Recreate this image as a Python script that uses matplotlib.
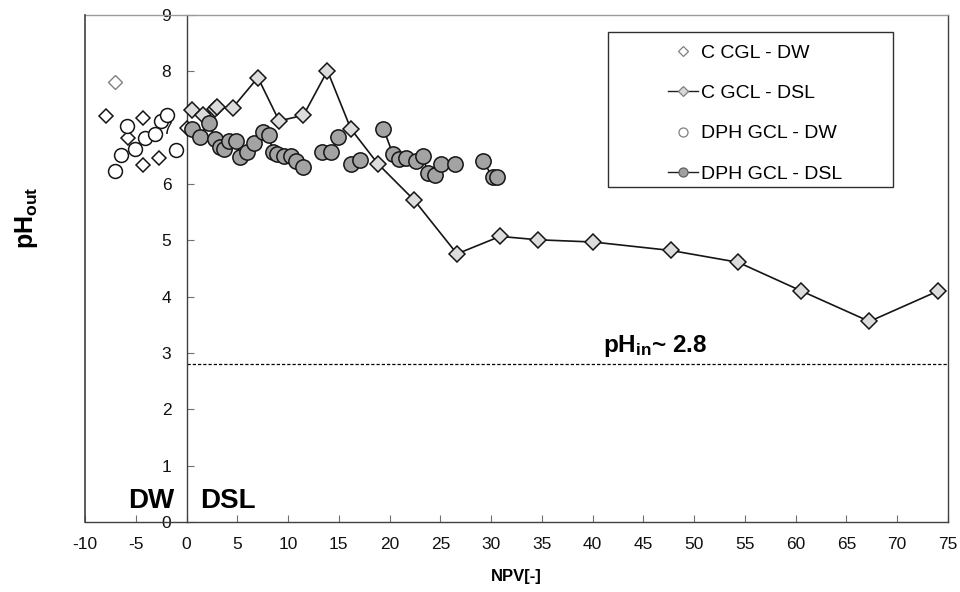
import numpy as np
import matplotlib
matplotlib.use('Agg')
import matplotlib.pyplot as plt
from matplotlib.lines import Line2D
from matplotlib.patches import Rectangle

plt.rcParams['font.family'] = ['Liberation Sans', 'DejaVu Sans']
plt.rcParams['mathtext.fontset'] = 'custom'
plt.rcParams['mathtext.rm'] = 'Liberation Sans'
plt.rcParams['mathtext.bf'] = 'Liberation Sans:bold'
plt.rcParams['mathtext.it'] = 'Liberation Sans:italic'
plt.rcParams['axes.unicode_minus'] = False

# ---------------- data ----------------
c_cgl_dw_x = [-7.9, -4.3, -5.8, -4.3, -2.7, 0.0]
c_cgl_dw_y = [7.21, 7.17, 6.82, 6.33, 6.46, 7.00]
c_cgl_dw_extra_x = [-7.0]
c_cgl_dw_extra_y = [7.81]

c_gcl_dsl_x = [0.53, 1.67, 2.82, 3.05, 4.53, 7.03, 9.12, 11.52, 13.88, 16.18, 18.84,
               22.44, 26.64, 30.88, 34.59, 40.06, 47.71, 54.33, 60.57, 67.26, 74.02]
c_gcl_dsl_y = [7.31, 7.22, 7.34, 7.36, 7.35, 7.89, 7.12, 7.22, 8.01, 6.98, 6.36,
               5.71, 4.76, 5.07, 5.01, 4.97, 4.82, 4.61, 4.10, 3.56, 4.10]

dph_gcl_dw_x = [-5.87, -6.5, -7.0, -5.06, -4.08, -3.13, -2.54, -1.95, -1.01]
dph_gcl_dw_y = [7.03, 6.52, 6.23, 6.63, 6.81, 6.88, 7.12, 7.22, 6.61]

nan = np.nan
dph_gcl_dsl_x = [0.53, 1.28, 2.17, 2.82, 3.25, 3.71, 4.2, 4.86, 5.3, 5.94, 6.66, 7.5, 8.1,
                 8.5, 8.9, 9.6, 10.3, 10.76, 11.5, nan,
                 13.3, 14.25, 14.96, nan,
                 16.2, 17.1, nan,
                 19.4, 20.3, 20.94, 21.6, 22.6, 23.3, 23.75, 24.5, 25.1, 26.4, nan,
                 29.2, 30.16, 30.6]
dph_gcl_dsl_y = [6.98, 6.84, 7.09, 6.80, 6.65, 6.63, 6.77, 6.76, 6.48, 6.57, 6.72, 6.93, 6.87,
                 6.57, 6.53, 6.49, 6.49, 6.40, 6.31, nan,
                 6.56, 6.57, 6.84, nan,
                 6.36, 6.43, nan,
                 6.98, 6.54, 6.44, 6.47, 6.41, 6.49, 6.19, 6.16, 6.36, 6.35, nan,
                 6.40, 6.13, 6.13]

ph_in = 2.8
x_ticks = list(range(-10, 80, 5))
y_ticks = list(range(0, 10))

legend_labels = ['C CGL - DW', 'C GCL - DSL', 'DPH GCL - DW', 'DPH GCL - DSL']

# ---------------- figure ----------------
fig = plt.figure(figsize=(9.6, 5.92), dpi=100)
W, H = 960, 592
L, R, T, B = 85, 948, 15, 522
ax = fig.add_axes([L / W, 1 - B / H, (R - L) / W, (B - T) / H])
ax.set_xlim(-10, 75)
ax.set_ylim(0, 9)

ax.spines['left'].set_position(('data', 0))
for s in ['left', 'bottom', 'right']:
    ax.spines[s].set_color('#404040')
    ax.spines[s].set_linewidth(1.0)
ax.spines['top'].set_color('#9a9a9a')
ax.spines['top'].set_linewidth(1.0)
ax.axvline(-10, color='#404040', lw=1.2, clip_on=False, zorder=3)

ax.set_xticks(x_ticks)
ax.set_yticks(y_ticks)
ax.tick_params(axis='x', direction='in', length=5, width=0.8, color='#707070',
               pad=10.5, labelsize=12.5, labelcolor='#111111')
ax.tick_params(axis='y', direction='in', length=5, width=0.8, color='#707070',
               pad=11, labelsize=12.5, labelcolor='#111111')

# reference line
ax.hlines(ph_in, 0, 75, colors='black', linestyles=(0, (2.6, 1.6)), lw=0.9, zorder=2)

# series
ax.plot(c_gcl_dsl_x, c_gcl_dsl_y, color='#151515', lw=1.2, marker='D', ms=8.6,
        mfc='#dcdcdc', mec='#151515', mew=1.1, zorder=4)
ax.plot(c_cgl_dw_x, c_cgl_dw_y, ls='none', marker='D', ms=7.6,
        mfc='white', mec='#151515', mew=1.1, zorder=4)
ax.plot(c_cgl_dw_extra_x, c_cgl_dw_extra_y, ls='none', marker='D', ms=7.2,
        mfc='white', mec='#808080', mew=1.0, zorder=4)
ax.plot(dph_gcl_dw_x, dph_gcl_dw_y, ls='none', marker='o', ms=10,
        mfc='white', mec='#151515', mew=1.1, zorder=5)
ax.plot(dph_gcl_dsl_x, dph_gcl_dsl_y, color='#151515', lw=1.2, marker='o', ms=11,
        mfc='#a3a3a3', mec='#151515', mew=1.1, zorder=5)

# texts
ax.text(41.0, 3.02, r'$\mathbf{pH_{in}}$' + '~ 2.8', fontsize=17.5, fontweight='bold',
        ha='left', va='baseline')
ax.text(-5.74, 0.25, 'DW', fontsize=20, fontweight='bold', ha='left', va='baseline')
ax.text(1.35, 0.25, 'DSL', fontsize=20, fontweight='bold', ha='left', va='baseline')

fig.text(26 / W, 1 - 218 / H, r'$\mathbf{pH_{out}}$', fontsize=18, rotation=90,
         ha='center', va='center')
fig.text(516 / W, 1 - 577 / H, 'NPV[-]', fontsize=12, fontweight='bold',
         ha='center', va='center')

# legend
handles = [
    Line2D([], [], ls='none', marker='D', ms=5, mfc='white', mec='#808080', mew=0.9),
    Line2D([], [], color='#202020', lw=1.0, marker='D', ms=5, mfc='#d8d8d8', mec='#808080', mew=0.9),
    Line2D([], [], ls='none', marker='o', ms=6.5, mfc='white', mec='#808080', mew=0.9),
    Line2D([], [], color='#202020', lw=1.0, marker='o', ms=6.5, mfc='#a0a0a0', mec='#606060', mew=0.9),
]
bx0, bx1, by0, by1 = 608, 893, 32, 187
ax.add_patch(Rectangle(((bx0 - L) / (R - L), (B - by1) / (B - T)),
                       (bx1 - bx0) / (R - L), (by1 - by0) / (B - T),
                       transform=ax.transAxes, fill=True, facecolor='white',
                       edgecolor='#303030', lw=1.0, zorder=6))
leg = ax.legend(handles, legend_labels, loc='upper left', frameon=False,
                bbox_to_anchor=((668 - L) / (R - L), (B - 44) / (B - T)),
                fontsize=14, handlelength=1.55, handletextpad=0.15,
                labelspacing=1.17, borderpad=0, borderaxespad=0)
leg.set_zorder(7)

fig.savefig('out.png', dpi=100)
